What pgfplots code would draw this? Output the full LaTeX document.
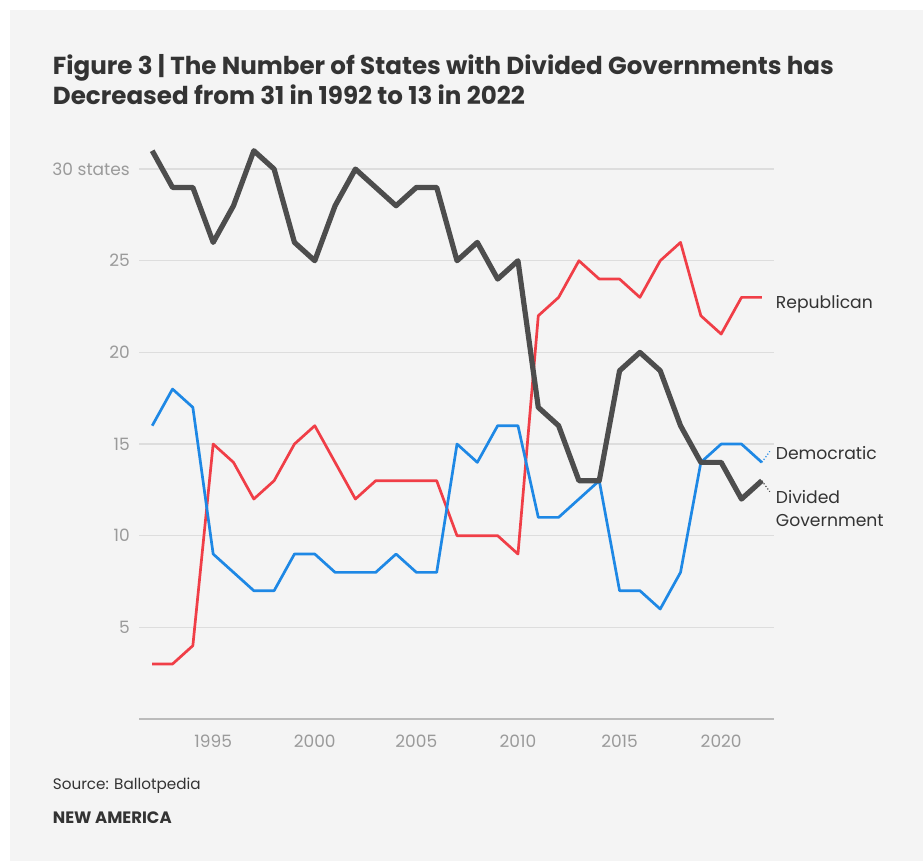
\documentclass[border=0pt]{standalone}
\usepackage{fontspec}
\setmainfont{Poppins}
\usepackage{pgfplots}
\usepackage{pgfplotstable}
\pgfplotsset{compat=1.18}
\definecolor{bg}{HTML}{F4F4F4}
\definecolor{titlecol}{HTML}{333333}
\definecolor{tickgray}{HTML}{9A9A9A}
\definecolor{gridgray}{HTML}{DDDDDD}
\definecolor{axisgray}{HTML}{BBBBBB}
\definecolor{divcol}{HTML}{4D4D4D}
\definecolor{repcol}{HTML}{F03E47}
\definecolor{demcol}{HTML}{1E88E5}

\pgfplotstableread{
year div rep dem
1992 31 3 16
1993 29 3 18
1994 29 4 17
1995 26 15 9
1996 28 14 8
1997 31 12 7
1998 30 13 7
1999 26 15 9
2000 25 16 9
2001 28 14 8
2002 30 12 8
2003 29 13 8
2004 28 13 9
2005 29 13 8
2006 29 13 8
2007 25 10 15
2008 26 10 14
2009 24 10 16
2010 25 9 16
2011 17 22 11
2012 16 23 11
2013 13 25 12
2014 13 24 13
2015 19 24 7
2016 20 23 7
2017 19 25 6
2018 16 26 8
2019 14 22 14
2020 14 21 15
2021 12 23 15
2022 13 23 14
}\data

\begin{document}
\begin{tikzpicture}[x=1pt,y=1pt]
\useasboundingbox (0,0) rectangle (923,861);
\fill[white] (0,0) rectangle (923,861);
\fill[bg] (10,0) rectangle (923,851);

\node[anchor=base west, font=\fontsize{24.6}{30}\selectfont\bfseries, text=titlecol, inner sep=0pt] at (52.7,786) {Figure 3 | The Number of States with Divided Governments has};
\node[anchor=base west, font=\fontsize{24.6}{30}\selectfont\bfseries, text=titlecol, inner sep=0pt] at (52.7,756) {Decreased from 31 in 1992 to 13 in 2022};

\begin{axis}[
  at={(139pt,142pt)}, anchor=south west,
  scale only axis, width=635pt, height=577.4pt,
  xmin=1991.35, xmax=2022.6, ymin=0, ymax=31.5,
  axis x line=bottom, axis y line=left,
  axis line style={-, draw=axisgray, line width=1.3pt},
  y axis line style={draw=none},
  xtick={1995,2000,2005,2010,2015,2020},
  xticklabels={1995,2000,2005,2010,2015,2020},
  ytick={5,10,15,20,25,30},
  yticklabels={5,10,15,20,25,30 states},
  major tick length=0pt,
  ymajorgrids, grid style={gridgray, line width=1.2pt},
  tick label style={font=\fontsize{17}{20}\selectfont, text=tickgray, inner sep=0pt},
  xticklabel style={anchor=north, yshift=-16pt},
  yticklabel style={anchor=east, xshift=-9pt},
  clip=false,
]
\addplot[repcol, line width=2.7pt, line join=round, no marks] table[x=year, y=rep] {\data};
\addplot[demcol, line width=2.7pt, line join=round, no marks] table[x=year, y=dem] {\data};
\addplot[divcol, line width=5.2pt, line join=round, no marks] table[x=year, y=div] {\data};
\draw[demcol, line width=1.2pt, dotted] (axis cs:2022,14) -- ++(8pt,11pt);
\draw[divcol, line width=1.2pt, dotted] (axis cs:2022,13) -- ++(8pt,-11pt);
\end{axis}

\node[anchor=base west, font=\fontsize{17.2}{23}\selectfont, text=titlecol, inner sep=0pt] at (775.7,552.7) {Republican};
\node[anchor=base west, font=\fontsize{17.2}{23}\selectfont, text=titlecol, inner sep=0pt] at (775.7,401) {Democratic};
\node[anchor=base west, font=\fontsize{17.2}{23}\selectfont, text=titlecol, inner sep=0pt] at (775.7,357.7) {Divided};
\node[anchor=base west, font=\fontsize{17.2}{23}\selectfont, text=titlecol, inner sep=0pt] at (775.7,334.5) {Government};

\node[anchor=base west, font=\fontsize{15.2}{18}\selectfont, text=titlecol, inner sep=0pt] at (52.7,71.7) {Source: Ballotpedia};
\node[anchor=base west, font=\fontsize{16.5}{19}\selectfont\bfseries, text=titlecol, inner sep=0pt] at (52.7,37.7) {NEW AMERICA};
\end{tikzpicture}
\end{document}
